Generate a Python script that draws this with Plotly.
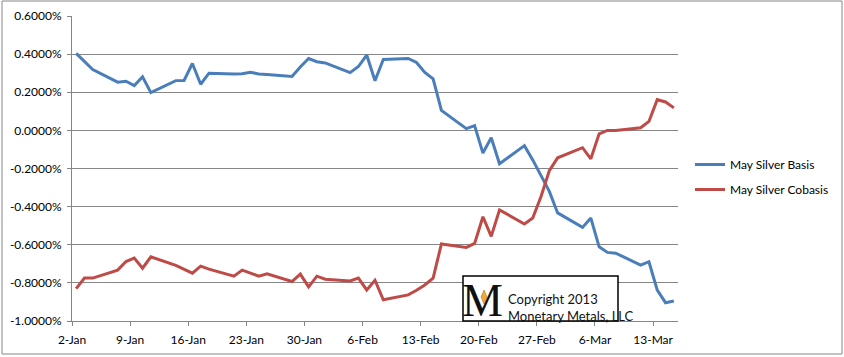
import plotly.graph_objects as go
import pandas as pd

# ---- data ----
dates = [
    "2013-01-02", "2013-01-03", "2013-01-04", "2013-01-07", "2013-01-08", "2013-01-09",
    "2013-01-10", "2013-01-11", "2013-01-14", "2013-01-15", "2013-01-16", "2013-01-17",
    "2013-01-18", "2013-01-21", "2013-01-22", "2013-01-23", "2013-01-24", "2013-01-25",
    "2013-01-28", "2013-01-29", "2013-01-30", "2013-01-31", "2013-02-01", "2013-02-04",
    "2013-02-05", "2013-02-06", "2013-02-07", "2013-02-08", "2013-02-11", "2013-02-12",
    "2013-02-13", "2013-02-14", "2013-02-15", "2013-02-18", "2013-02-19", "2013-02-20",
    "2013-02-21", "2013-02-22", "2013-02-25", "2013-02-26", "2013-02-27", "2013-02-28",
    "2013-03-01", "2013-03-04", "2013-03-05", "2013-03-06", "2013-03-07", "2013-03-08",
    "2013-03-11", "2013-03-12", "2013-03-13", "2013-03-14", "2013-03-15",
]
basis = [
    0.404, 0.360, 0.319, 0.253, 0.258, 0.235,
    0.281, 0.198, 0.261, 0.262, 0.351, 0.242,
    0.300, 0.296, 0.297, 0.305, 0.296, 0.293,
    0.283, 0.333, 0.377, 0.360, 0.354, 0.303,
    0.335, 0.395, 0.260, 0.372, 0.377, 0.356,
    0.304, 0.270, 0.105, 0.009, 0.025, -0.119,
    -0.039, -0.175, -0.080, -0.155, -0.235, -0.320,
    -0.433, -0.509, -0.460, -0.611, -0.640, -0.644,
    -0.707, -0.689, -0.838, -0.904, -0.895,
]
cobasis = [
    -0.830, -0.775, -0.775, -0.733, -0.688, -0.670,
    -0.723, -0.663, -0.708, -0.727, -0.749, -0.712,
    -0.728, -0.765, -0.733, -0.749, -0.765, -0.753,
    -0.793, -0.754, -0.821, -0.765, -0.781, -0.790,
    -0.775, -0.837, -0.786, -0.889, -0.863, -0.839,
    -0.811, -0.775, -0.596, -0.614, -0.593, -0.453,
    -0.556, -0.417, -0.491, -0.460, -0.347, -0.211,
    -0.144, -0.091, -0.149, -0.018, 0.000, 0.000,
    0.014, 0.047, 0.161, 0.149, 0.118,
]
series_names = ["May Silver Basis", "May Silver Cobasis"]
x_tick_dates = ["2013-01-02", "2013-01-09", "2013-01-16", "2013-01-23", "2013-01-30",
                "2013-02-06", "2013-02-13", "2013-02-20", "2013-02-27", "2013-03-06",
                "2013-03-13"]
x_tick_labels = ["2-Jan", "9-Jan", "16-Jan", "23-Jan", "30-Jan", "6-Feb", "13-Feb",
                 "20-Feb", "27-Feb", "6-Mar", "13-Mar"]
y_tick_vals = [0.6, 0.4, 0.2, 0.0, -0.2, -0.4, -0.6, -0.8, -1.0]
y_tick_labels = ["0.6000%", "0.4000%", "0.2000%", "0.0000%", "-0.2000%", "-0.4000%",
                 "-0.6000%", "-0.8000%", "-1.0000%"]

# ---- figure ----
FONT = "Lato, 'Open Sans', sans-serif"
GRID = "#868686"
x = pd.to_datetime(dates)
# Excel date axis: tick marks sit on day boundaries, points in the middle of the day
tickpos = pd.to_datetime(x_tick_dates) - pd.Timedelta(hours=12)

fig = go.Figure()
fig.add_trace(go.Scatter(x=x, y=basis, mode="lines", name=series_names[0],
                         line=dict(color="#4A7EBB", width=3), legendgroup="a"))
fig.add_trace(go.Scatter(x=x, y=cobasis, mode="lines", name=series_names[1],
                         line=dict(color="#BE4B48", width=3), legendgroup="b"))

W, H = 844, 357
L, R, T, B = 72, 678, 16, 321


def px(v):
    return (v - L) / (R - L)


def py(v):
    return (B - v) / (B - T)


# small diamond of the logo figure (decoration)
dx0, dy0 = px(484), py(297)
ddx, ddy = 3 / (R - L), 7 / (B - T)
diamond = (f"M {dx0},{dy0 + ddy} L {dx0 + ddx},{dy0} L {dx0},{dy0 - ddy} "
           f"L {dx0 - ddx},{dy0} Z")

fig.update_layout(
    width=W, height=H,
    margin=dict(l=L, r=W - R, t=T, b=H - B, autoexpand=False),
    paper_bgcolor="white", plot_bgcolor="white",
    font=dict(family=FONT, size=12, color="#000000"),
    legend=dict(x=px(690), y=py(150), xanchor="left", yanchor="top",
                font=dict(family=FONT, size=12, color="#000000"),
                tracegroupgap=6, traceorder="grouped", bgcolor="rgba(0,0,0,0)"),
    xaxis=dict(
        type="date", automargin=False,
        range=[pd.Timestamp("2013-01-01 12:00"), pd.Timestamp("2013-03-15 12:00")],
        tickvals=tickpos, ticktext=x_tick_labels,
        showgrid=False, zeroline=False,
        showline=True, linecolor=GRID, linewidth=1,
        ticks="outside", ticklen=4, tickcolor=GRID,
        ticklabelstandoff=4,
        tickfont=dict(family=FONT, size=12, color="#000000"),
    ),
    yaxis=dict(
        range=[-1.0, 0.6], automargin=False,
        tickvals=y_tick_vals, ticktext=y_tick_labels,
        showgrid=True, gridcolor=GRID, gridwidth=1,
        zeroline=False,
        showline=True, linecolor=GRID, linewidth=1,
        ticks="outside", ticklen=4, tickcolor=GRID,
        ticklabelstandoff=3,
        tickfont=dict(family=FONT, size=12, color="#000000"),
    ),
    shapes=[
        # chart-area border
        dict(type="rect", xref="paper", yref="paper",
             x0=px(2), x1=px(842), y0=py(354), y1=py(1),
             line=dict(color=GRID, width=1), fillcolor="rgba(0,0,0,0)", layer="below"),
        # copyright box
        dict(type="rect", xref="paper", yref="paper",
             x0=px(463), x1=px(618), y0=py(321), y1=py(276),
             line=dict(color="#000000", width=1.5), fillcolor="white", layer="above"),
        dict(type="path", xref="paper", yref="paper", path=diamond,
             line=dict(color="#9A6A10", width=0.5), fillcolor="#F2A93B", layer="above"),
    ],
    annotations=[
        dict(text="M", xref="paper", yref="paper", x=px(482), y=py(300),
             xanchor="center", yanchor="middle", showarrow=False,
             font=dict(family="Liberation Serif", size=46, color="#111111")),
        dict(text="Copyright 2013", xref="paper", yref="paper", x=px(506), y=py(299),
             xanchor="left", yanchor="middle", showarrow=False,
             font=dict(family=FONT, size=13, color="#111111")),
        dict(text="Monetary Metals, LLC", xref="paper", yref="paper", x=px(506), y=py(316),
             xanchor="left", yanchor="middle", showarrow=False,
             font=dict(family=FONT, size=13, color="#111111")),
    ],
)

fig.write_html("out.html", config={"displayModeBar": False},
               post_script="document.body.style.margin='0';")
